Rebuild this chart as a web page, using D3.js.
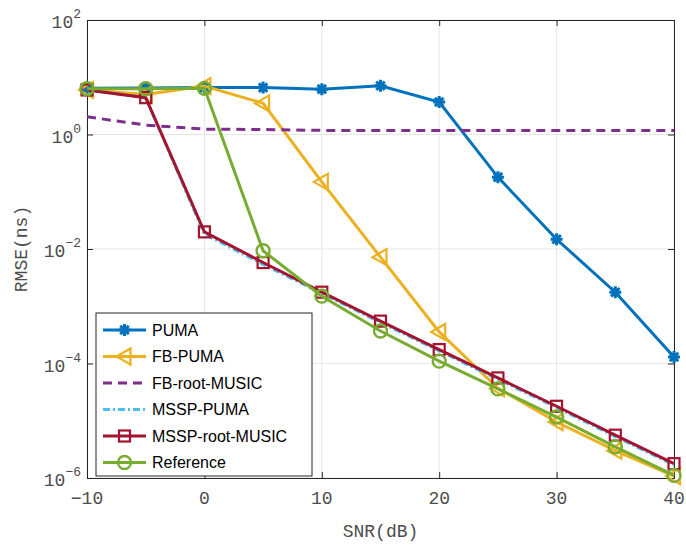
<!DOCTYPE html>
<html>
<head>
<meta charset="utf-8">
<script src="https://cdn.jsdelivr.net/npm/d3@7"></script>
<style>
body { margin: 0; background: #fff; }
svg { display: block; }
</style>
</head>
<body>
<div id="chart"></div>
<script>
// SNR 轴
var snr = [-10, -5, 0, 5, 10, 15, 20, 25, 30, 35, 40];
// 各方法 RMSE (ns)
var puma        = [6.4, 6.5, 6.6, 6.6, 6.2, 7.1, 3.7, 0.18, 0.0148, 0.00176, 1.3e-4];
var fbPuma      = [6.0, 5.0, 7.0, 3.5, 0.149, 0.0072, 3.56e-4, 3.7e-5, 9.5e-6, 3.0e-6, 1.08e-6];
var fbRootMusic = [2.04, 1.46, 1.24, 1.22, 1.18, 1.18, 1.18, 1.18, 1.18, 1.18, 1.18];
var msspPuma    = [6.0, 4.4, 0.0182, 0.0054, 0.00168, 5.2e-4, 1.66e-4, 5.3e-5, 1.7e-5, 5.3e-6, 1.7e-6];
var msspRoot    = [6.0, 4.4, 0.0199, 0.0058, 0.00176, 5.5e-4, 1.75e-4, 5.6e-5, 1.79e-5, 5.6e-6, 1.78e-6];
var reference   = [6.3, 6.3, 6.4, 0.0093, 0.0015, 3.7e-4, 1.1e-4, 3.6e-5, 1.16e-5, 3.5e-6, 1.11e-6];

var seriesNames = ["PUMA", "FB-PUMA", "FB-root-MUSIC", "MSSP-PUMA", "MSSP-root-MUSIC", "Reference"];
var xTicks = [-10, 0, 10, 20, 30, 40];
var yExps = [2, 0, -2, -4, -6];

var W = 686, H = 547;
var m = {left: 87, top: 20, right: 12, bottom: 69};

var series = [
    {name: seriesNames[0], v: puma, color: "#0072BD", mark: "star", dash: null},
    {name: seriesNames[1], v: fbPuma, color: "#EDB120", mark: "tri", dash: null},
    {name: seriesNames[2], v: fbRootMusic, color: "#7E2F8E", mark: null, dash: "9,6"},
    {name: seriesNames[3], v: msspPuma, color: "#4DBEEE", mark: null, dash: "7,3,2,3"},
    {name: seriesNames[4], v: msspRoot, color: "#A2142F", mark: "square", dash: null},
    {name: seriesNames[5], v: reference, color: "#77AC30", mark: "circle", dash: null}
];

var svg = d3.select("#chart").append("svg").attr("width", W).attr("height", H);

var x = d3.scaleLinear().domain([-10, 40]).range([m.left, W - m.right]);
var y = d3.scaleLog().domain([1e-6, 1e2]).range([H - m.bottom, m.top]);

var g = svg.append("g");

//网格
g.selectAll(".gx").data(xTicks).enter().append("line")
    .attr("x1", d => x(d)).attr("x2", d => x(d))
    .attr("y1", m.top).attr("y2", H - m.bottom)
    .attr("stroke", "#e6e6e6").attr("stroke-width", 1);
g.selectAll(".gy").data(yExps).enter().append("line")
    .attr("x1", m.left).attr("x2", W - m.right)
    .attr("y1", d => y(Math.pow(10, d))).attr("y2", d => y(Math.pow(10, d)))
    .attr("stroke", "#e6e6e6").attr("stroke-width", 1);

// 轴
var axisColor = "#262626";
var xb = d3.axisBottom(x).tickValues(xTicks).tickSize(-6).tickFormat("");
var xt = d3.axisTop(x).tickValues(xTicks).tickSize(-6).tickFormat("");
var yl = d3.axisLeft(y).tickValues(yExps.map(e => Math.pow(10, e))).tickSize(-6).tickFormat("");
var yr = d3.axisRight(y).tickValues(yExps.map(e => Math.pow(10, e))).tickSize(-6).tickFormat("");
[[xb, "translate(0," + (H - m.bottom) + ")"], [xt, "translate(0," + m.top + ")"],
 [yl, "translate(" + m.left + ",0)"], [yr, "translate(" + (W - m.right) + ",0)"]].forEach(function (a) {
    var ax = g.append("g").attr("transform", a[1]).call(a[0]);
    ax.selectAll("path,line").attr("stroke", axisColor).attr("stroke-width", 1);
    ax.select(".domain").attr("stroke", axisColor);
});

var lblFont = "'Liberation Mono', 'Courier New', monospace";
var lblColor = "#4d4d4d";
g.selectAll(".xl").data(xTicks).enter().append("text")
    .attr("x", d => x(d)).attr("y", H - m.bottom + 26)
    .attr("text-anchor", "middle")
    .style("font-family", lblFont).style("font-size", "18px").attr("fill", lblColor)
    .text(d => d < 0 ? "\u2212" + Math.abs(d) : d);

var yl2 = g.selectAll(".yl").data(yExps).enter().append("text")
    .attr("x", m.left - 6).attr("y", d => y(Math.pow(10, d)) + 8)
    .attr("text-anchor", "end")
    .style("font-family", lblFont).style("font-size", "18px").attr("fill", lblColor);
yl2.append("tspan").text("10");
yl2.append("tspan").attr("dy", -10).style("font-size", "13px")
    .text(d => d < 0 ? "\u2212" + Math.abs(d) : d);

svg.append("text").attr("x", (m.left + W - m.right) / 2).attr("y", H - 10)
    .attr("text-anchor", "middle")
    .style("font-family", lblFont).style("font-size", "18px").attr("fill", lblColor)
    .text("SNR(dB)");
svg.append("text").attr("transform", "translate(27," + ((m.top + H - m.bottom) / 2) + ") rotate(-90)")
    .attr("text-anchor", "middle")
    .style("font-family", lblFont).style("font-size", "18px").attr("fill", lblColor)
    .text("RMSE(ns)");

// 标记
function drawMark(sel, type, color) {
    if (type === "star") {
        var r = 6;
        var p = "";
        for (var k = 0; k < 4; k++) {
            var a = k * Math.PI / 4;
            p += "M" + (-r * Math.cos(a)) + "," + (-r * Math.sin(a)) + "L" + (r * Math.cos(a)) + "," + (r * Math.sin(a));
        }
        sel.append("path").attr("d", p).attr("stroke", color).attr("stroke-width", 3).attr("fill", "none");
    } else if (type === "tri") {
        sel.append("path").attr("d", "M-8,0L6,-8L6,8Z").attr("stroke", color)
            .attr("stroke-width", 2.2).attr("fill", "none");
    } else if (type === "square") {
        sel.append("rect").attr("x", -5.5).attr("y", -5.5).attr("width", 11).attr("height", 11)
            .attr("stroke", color).attr("stroke-width", 2.2).attr("fill", "none");
    } else if (type === "circle") {
        sel.append("circle").attr("r", 6.5).attr("stroke", color).attr("stroke-width", 2.4).attr("fill", "none");
    }
}

var line = d3.line().x(d => x(d[0])).y(d => y(d[1]));
series.forEach(function (s) {
    var pts = snr.map((t, i) => [t, s.v[i]]);
    var sg = g.append("g");
    sg.append("path").datum(pts).attr("d", line)
        .attr("fill", "none").attr("stroke", s.color).attr("stroke-width", 3)
        .attr("stroke-dasharray", s.dash);
    if (s.mark) {
        pts.forEach(function (p) {
            var mg = sg.append("g").attr("transform", "translate(" + x(p[0]) + "," + y(p[1]) + ")");
            drawMark(mg, s.mark, s.color);
        });
    }
});

// 图例
var lg = svg.append("g").attr("transform", "translate(96,313)");
lg.append("rect").attr("width", 216).attr("height", 163).attr("fill", "#fff")
    .attr("stroke", "#262626").attr("stroke-width", 1);
series.forEach(function (s, i) {
    var yy = 17 + i * 26.5;
    lg.append("line").attr("x1", 7).attr("x2", 50).attr("y1", yy).attr("y2", yy)
        .attr("stroke", s.color).attr("stroke-width", 3).attr("stroke-dasharray", s.dash);
    if (s.mark) drawMark(lg.append("g").attr("transform", "translate(28.5," + yy + ")"), s.mark, s.color);
    lg.append("text").attr("x", 56).attr("y", yy + 5.5)
        .style("font-family", "'Liberation Sans', Arial, sans-serif").style("font-size", "16px")
        .attr("fill", "#000").text(s.name);
});
</script>
</body>
</html>
